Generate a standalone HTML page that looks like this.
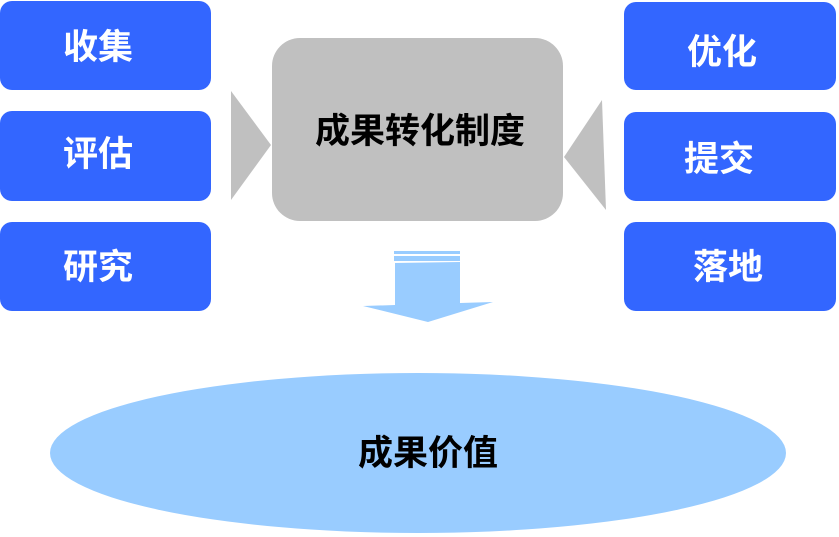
<!DOCTYPE html>
<html><head><meta charset="utf-8"><style>
body{margin:0;width:839px;height:537px;background:#fff;position:relative;overflow:hidden;font-family:"Liberation Sans","Noto Sans CJK SC",sans-serif;}
.b{position:absolute;background:#3366ff;border-radius:12px;}
.t{position:absolute;color:#fff;font-weight:bold;font-size:35px;line-height:36px;width:120px;text-align:center;margin-left:-60px;margin-top:-18px;}
</style></head><body>
<div class="b" style="left:0;top:1px;width:211px;height:89px"></div>
<div class="b" style="left:0;top:111px;width:211px;height:90px"></div>
<div class="b" style="left:0;top:222px;width:211px;height:89px"></div>
<div class="b" style="left:624px;top:2px;width:212px;height:88px"></div>
<div class="b" style="left:624px;top:112px;width:212px;height:89px"></div>
<div class="b" style="left:624px;top:222px;width:212px;height:89px"></div>
<div class="t" style="left:98px;top:48px">收集</div>
<div class="t" style="left:98px;top:155px">评估</div>
<div class="t" style="left:98px;top:268px">研究</div>
<div class="t" style="left:722px;top:53px">优化</div>
<div class="t" style="left:719px;top:160px">提交</div>
<div class="t" style="left:728px;top:268px">落地</div>
<svg width="839" height="537" style="position:absolute;left:0;top:0">
<rect x="272" y="38" width="291" height="183" rx="28" fill="#c0c0c0"/>
<polygon points="231,91 271,145 231,200" fill="#c0c0c0"/>
<polygon points="564,157 602,100 606,210" fill="#c0c0c0"/>
<rect x="394" y="251" width="66" height="3" fill="#99ccff"/>
<rect x="394" y="256" width="66" height="5" fill="#99ccff"/>
<polygon points="395,263 460,262 460,303 493,302 428,322 363,306 395,305" fill="#99ccff"/>
<ellipse cx="418" cy="453" rx="368" ry="80" fill="#99ccff"/>
<text x="420" y="143" font-size="35" font-weight="bold" text-anchor="middle" fill="#000" font-family="Liberation Sans,Noto Sans CJK SC,sans-serif">成果转化制度</text>
<text x="428" y="465" font-size="35" font-weight="bold" text-anchor="middle" fill="#000" font-family="Liberation Sans,Noto Sans CJK SC,sans-serif">成果价值</text>
</svg>
</body></html>
